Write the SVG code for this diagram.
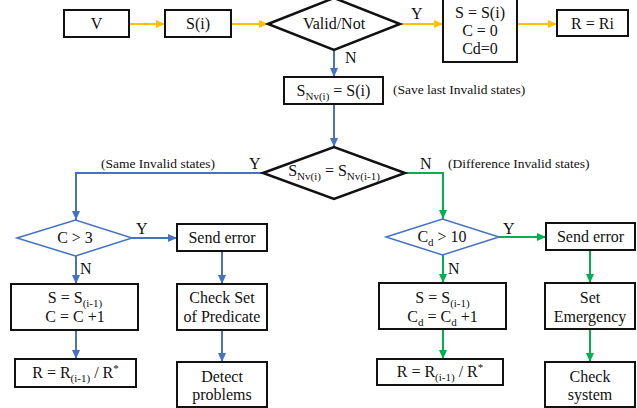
<svg xmlns="http://www.w3.org/2000/svg" width="637" height="408" viewBox="0 0 637 408" font-family="'Liberation Serif', 'DejaVu Serif', serif">
  <style>
    text { font-family: 'Liberation Serif', 'DejaVu Serif', serif; font-size: 16px; fill: #111; }
    .c { text-anchor: middle; }
    .note { font-size: 13.5px; }
    .box { fill: #fff; stroke: #111; stroke-width: 2; }
    .dia { fill: #fff; stroke: #111; stroke-width: 2.5; stroke-linejoin: miter; }
    .bdia { fill: #fff; stroke: #4472C4; stroke-width: 1.5; }
    .y { fill: none; stroke: #FFC000; stroke-width: 2; marker-end: url(#ay); }
    .b { fill: none; stroke: #4472C4; stroke-width: 2; marker-end: url(#ab); }
    .g { fill: none; stroke: #00B050; stroke-width: 2; marker-end: url(#ag); }
    .sub { font-size: 11px; }
  </style>
  <defs>
    <marker id="ay" markerUnits="userSpaceOnUse" markerWidth="9" markerHeight="8" refX="9" refY="4" orient="auto">
      <path d="M0,0 L9,4 L0,8 z" fill="#FFC000"/>
    </marker>
    <marker id="ab" markerUnits="userSpaceOnUse" markerWidth="9" markerHeight="8" refX="9" refY="4" orient="auto">
      <path d="M0,0 L9,4 L0,8 z" fill="#4472C4"/>
    </marker>
    <marker id="ag" markerUnits="userSpaceOnUse" markerWidth="9" markerHeight="8" refX="9" refY="4" orient="auto">
      <path d="M0,0 L9,4 L0,8 z" fill="#00B050"/>
    </marker>
  </defs>
  <rect width="637" height="408" fill="#fff"/>

  <!-- connectors -->
  <g id="connectors">
    <path class="y" d="M129,24 H165"/>
    <path class="y" d="M231,24 H268"/>
    <path class="y" d="M400,24 H443"/>
    <path class="y" d="M517,24 H557"/>
    <path class="b" d="M334,50 V77"/>
    <path class="b" d="M334,104 V147"/>
    <path class="b" d="M263,173 H76 V220"/>
    <path class="b" d="M132,238 H177"/>
    <path class="b" d="M76,256 V284"/>
    <path class="b" d="M76,330 V359"/>
    <path class="b" d="M222,251 V284"/>
    <path class="b" d="M222,330 V362"/>
    <path class="g" d="M405,173 H443 V219"/>
    <path class="g" d="M499,237 H546"/>
    <path class="g" d="M443,255 V283"/>
    <path class="g" d="M443,329 V359"/>
    <path class="g" d="M590,250 V283"/>
    <path class="g" d="M590,329 V362"/>
    <text x="411" y="19">Y</text>
    <text x="345" y="63">N</text>
    <text class="note" x="393" y="94">(Save last Invalid states)</text>
    <text x="249" y="169">Y</text>
    <text class="note" x="101" y="168">(Same Invalid states)</text>
    <text x="420" y="169">N</text>
    <text class="note" x="448" y="168">(Difference Invalid states)</text>
    <text x="136" y="234">Y</text>
    <text x="80" y="274">N</text>
    <text x="503" y="234">Y</text>
    <text x="448" y="274">N</text>
  </g>

  <g id="v">
    <rect class="box" x="64" y="10" width="65" height="27"/>
    <text class="c" x="96.5" y="29">V</text>
  </g>
  <g id="si">
    <rect class="box" x="165" y="10" width="66" height="27"/>
    <text class="c" x="198" y="29">S(i)</text>
  </g>
  <g id="valid">
    <path class="dia" d="M268,24 L334,-2 L400,24 L334,50 z"/>
    <text class="c" x="334" y="29">Valid/Not</text>
  </g>
  <g id="reset">
    <rect class="box" x="443" y="-2" width="74" height="64"/>
    <text class="c" x="480" y="18">S = S(i)</text>
    <text class="c" x="480" y="36">C = 0</text>
    <text class="c" x="480" y="54">Cd=0</text>
  </g>
  <g id="rri">
    <rect class="box" x="557" y="10" width="71" height="26"/>
    <text class="c" x="592.5" y="29">R = Ri</text>
  </g>
  <g id="save">
    <rect class="box" x="284" y="77" width="99" height="27"/>
    <text class="c" x="333.5" y="96">S<tspan class="sub" dy="4">Nv(i)</tspan><tspan dy="-4"> = S(i)</tspan></text>
  </g>
  <g id="same">
    <path class="dia" d="M263,173 L334,147 L405,173 L334,199 z"/>
    <text class="c" x="334" y="176">S<tspan class="sub" dy="4">Nv(i)</tspan><tspan dy="-4"> = S</tspan><tspan class="sub" dy="4">Nv(i-1)</tspan></text>
  </g>
  <g id="c3">
    <path class="bdia" d="M17,238 L75.5,220 L132,238 L75.5,256 z"/>
    <text class="c" x="75" y="243">C &gt; 3</text>
  </g>
  <g id="send1">
    <rect class="box" x="177" y="224" width="90" height="27"/>
    <text class="c" x="222" y="243">Send error</text>
  </g>
  <g id="upd1">
    <rect class="box" x="11" y="284" width="127" height="46"/>
    <text class="c" x="75" y="303">S = S<tspan class="sub" dy="4">(i-1)</tspan></text>
    <text class="c" x="75" y="322">C = C +1</text>
  </g>
  <g id="r1">
    <rect class="box" x="15" y="359" width="121" height="28"/>
    <text class="c" x="75.5" y="378">R = R<tspan class="sub" dy="4">(i-1)</tspan><tspan dy="-4"> / R</tspan><tspan class="sub" dy="-6">*</tspan></text>
  </g>
  <g id="check1">
    <rect class="box" x="177" y="284" width="90" height="46"/>
    <text class="c" x="222" y="303">Check Set</text>
    <text class="c" x="222" y="322">of Predicate</text>
  </g>
  <g id="detect">
    <rect class="box" x="177" y="362" width="90" height="45"/>
    <text class="c" x="222" y="382">Detect</text>
    <text class="c" x="222" y="400">problems</text>
  </g>
  <g id="cd10">
    <path class="bdia" d="M386,237 L442.5,219 L499,237 L442.5,255 z"/>
    <text class="c" x="442" y="242">C<tspan class="sub" dy="4">d</tspan><tspan dy="-4"> &gt; 10</tspan></text>
  </g>
  <g id="send2">
    <rect class="box" x="546" y="223" width="89" height="27"/>
    <text class="c" x="590.5" y="242">Send error</text>
  </g>
  <g id="upd2">
    <rect class="box" x="379" y="283" width="127" height="46"/>
    <text class="c" x="442.5" y="303">S = S<tspan class="sub" dy="4">(i-1)</tspan></text>
    <text class="c" x="442.5" y="322">C<tspan class="sub" dy="4">d</tspan><tspan dy="-4"> = C</tspan><tspan class="sub" dy="4">d</tspan><tspan dy="-4"> +1</tspan></text>
  </g>
  <g id="r2">
    <rect class="box" x="377" y="359" width="126" height="26"/>
    <text class="c" x="440" y="377">R = R<tspan class="sub" dy="4">(i-1)</tspan><tspan dy="-4"> / R</tspan><tspan class="sub" dy="-6">*</tspan></text>
  </g>
  <g id="emerg">
    <rect class="box" x="545" y="283" width="90" height="46"/>
    <text class="c" x="590" y="303">Set</text>
    <text class="c" x="590" y="322">Emergency</text>
  </g>
  <g id="checksys">
    <rect class="box" x="545" y="362" width="90" height="45"/>
    <text class="c" x="590" y="382">Check</text>
    <text class="c" x="590" y="400">system</text>
  </g>
</svg>
